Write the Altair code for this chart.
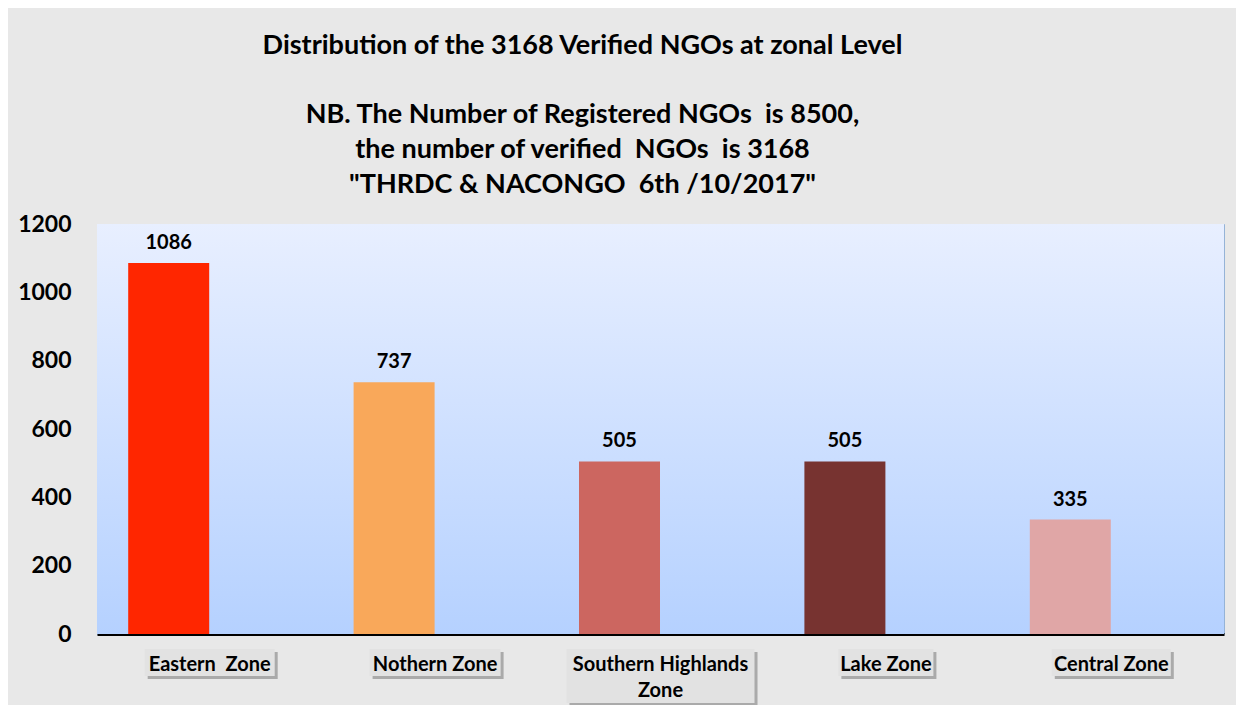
import altair as alt
import pandas as pd

NB = "\u00a0"

# ---- data ----
zones = ["Eastern  Zone", "Nothern Zone", "Southern Highlands Zone", "Lake Zone", "Central Zone"]
label_lines = [["Eastern" + NB + " Zone"], ["Nothern Zone"], ["Southern Highlands", "Zone"],
               ["Lake Zone"], ["Central Zone"]]
counts = [1086, 737, 505, 505, 335]
bar_colors = ["#ff2600", "#f9a85a", "#cc6660", "#773330", "#e0a6a6"]

title_text = "Distribution of the 3168 Verified NGOs at zonal Level"
subtitle_lines = [
    "NB. The Number of Registered NGOs" + NB + "  is 8500,",
    "the number of verified" + NB + "  NGOs" + NB + "  is 3168",
    "\"THRDC & NACONGO" + NB + "  6th /10/2017\"",
]

# ---- style ----
W, H = 1127, 410
FONT = "Lato"
box_width = {"Eastern  Zone": 130, "Nothern Zone": 131, "Southern Highlands Zone": 188,
             "Lake Zone": 95, "Central Zone": 119}

df = pd.DataFrame({
    "zone": zones,
    "count": counts,
    "label": label_lines,
    "nlines": [len(l) for l in label_lines],
    "boxw": [box_width[z] for z in zones],
})

xenc = alt.X("zone:N", sort=zones,
             scale=alt.Scale(paddingInner=0, paddingOuter=0),
             axis=alt.Axis(labels=False, ticks=False, title=None, domain=True,
                           domainColor="#000000", domainWidth=3))

base = alt.Chart(df)

plot_bg = base.mark_rect(
    color=alt.Gradient(gradient="linear", x1=0, y1=0, x2=0, y2=1,
                       stops=[alt.GradientStop(color="#e8efff", offset=0),
                              alt.GradientStop(color="#b5d1ff", offset=1)])
).encode(x=alt.value(0), x2=alt.value(W), y=alt.value(0), y2=alt.value(H))

bars = base.mark_bar(size=81, xOffset=-41).encode(
    x=xenc,
    y=alt.Y("count:Q", scale=alt.Scale(domain=[0, 1200]),
            axis=alt.Axis(values=[0, 200, 400, 600, 800, 1000, 1200], format="d", grid=False,
                          ticks=False, domain=False, title=None, labelFontSize=23,
                          labelFontWeight="bold", labelFont=FONT, labelColor="#000000",
                          labelPadding=26)),
    color=alt.Color("zone:N", sort=zones, scale=alt.Scale(domain=zones, range=bar_colors),
                    legend=None),
)

values = base.mark_text(xOffset=-41, dy=-20, fontSize=20, fontWeight="bold", font=FONT,
                        color="#000000", baseline="middle").encode(
    x=alt.X("zone:N", sort=zones),
    y=alt.Y("count:Q"),
    text=alt.Text("count:Q"),
)

one = base.transform_filter("datum.nlines == 1")
two = base.transform_filter("datum.nlines == 2")

shadow1 = one.mark_bar(color="#9a9a9a", xOffset=3, opacity=0.8).encode(
    x=alt.X("zone:N", sort=zones), size=alt.Size("boxw:Q", scale=None),
    y=alt.value(H + 18), y2=alt.value(H + 45))
box1 = one.mark_bar(color="#e2e2e2").encode(
    x=alt.X("zone:N", sort=zones), size=alt.Size("boxw:Q", scale=None),
    y=alt.value(H + 15), y2=alt.value(H + 42))
shadow2 = two.mark_bar(color="#9a9a9a", xOffset=3, opacity=0.8).encode(
    x=alt.X("zone:N", sort=zones), size=alt.Size("boxw:Q", scale=None),
    y=alt.value(H + 18), y2=alt.value(H + 72))
box2 = two.mark_bar(color="#e2e2e2").encode(
    x=alt.X("zone:N", sort=zones), size=alt.Size("boxw:Q", scale=None),
    y=alt.value(H + 15), y2=alt.value(H + 69))

xlabels = base.mark_text(fontSize=20, fontWeight="bold", font=FONT, color="#000000",
                         baseline="middle", lineHeight=26).encode(
    x=alt.X("zone:N", sort=zones),
    y=alt.value(H + 31),
    text=alt.Text("label"),
)

chart = alt.layer(plot_bg, bars, values, shadow2, box2, shadow1, box1, xlabels).properties(
    width=W, height=H,
    title=alt.TitleParams(
        text=title_text,
        subtitle=subtitle_lines,
        anchor="middle", dx=-78, offset=14,
        font=FONT, fontSize=27, fontWeight="bold", color="#000000",
        subtitleFont=FONT, subtitleFontSize=27, subtitleFontWeight="bold",
        subtitleColor="#000000", subtitleLineHeight=35, subtitlePadding=42,
    ),
    padding={"left": 89, "top": 216, "right": 12, "bottom": 71},
    autosize=alt.AutoSizeParams(type="none"),
).configure(
    background="#e8e8e8",
).configure_view(
    stroke="#95b3d7", strokeWidth=1,
)

chart.save("out.html", embed_options={"renderer": "svg", "actions": False})
